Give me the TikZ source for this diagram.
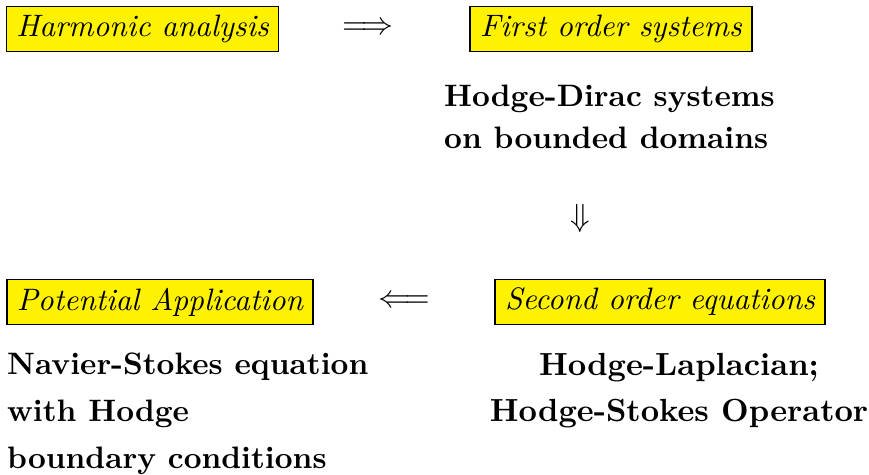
\documentclass[tikz,border=0pt]{standalone}
\usepackage{amsmath,amssymb,graphicx}
\newcommand{\SF}{3.1}
\newcommand{\bx}[1]{\scalebox{\SF}{\itshape #1}}
\newcommand{\bt}[2]{\scalebox{\SF}{\bfseries\renewcommand{\arraystretch}{#1}\begin{tabular}{@{}l@{}}#2\end{tabular}}}
\newcommand{\bc}[2]{\scalebox{3.2}{\bfseries\renewcommand{\arraystretch}{#1}\begin{tabular}{@{}c@{}}#2\end{tabular}}}
\begin{document}
\begin{tikzpicture}[x=1pt,y=-1pt,
  hbox/.style={draw=black,line width=1.5pt,fill=yellow,inner xsep=10pt,inner ysep=5pt,minimum height=45pt},
  btext/.style={inner sep=0pt},
  sym/.style={inner sep=0pt}]
\useasboundingbox (0,0) rectangle (869,474);
\node[hbox] (ha) at (142.5,29) {\bx{Harmonic analysis}};
\node[sym] (r1) at (368,29) {\scalebox{3.2}{$\Longrightarrow$}};
\node[hbox] (fo) at (611,29) {\bx{First order systems}};
\node[btext,anchor=west] (hd) at (444,119) {\bt{1.13}{Hodge-Dirac systems\\on bounded domains}};
\node[sym] (d1) at (580,218) {\scalebox{3.2}{$\Downarrow$}};
\node[hbox] (pa) at (160,302) {\bx{Potential Application}};
\node[sym] (l1) at (404,302) {\scalebox{3.2}{$\Longleftarrow$}};
\node[hbox] (so) at (660,302) {\bx{Second order equations}};
\node[btext,anchor=west] (ns) at (7,412) {\bt{1.27}{Navier-Stokes equation\\with Hodge\\boundary conditions}};
\node[btext] (hl) at (679,389) {\bc{1.2}{Hodge-Laplacian;\hspace{9pt}\\Hodge-Stokes Operator}};
\end{tikzpicture}
\end{document}
